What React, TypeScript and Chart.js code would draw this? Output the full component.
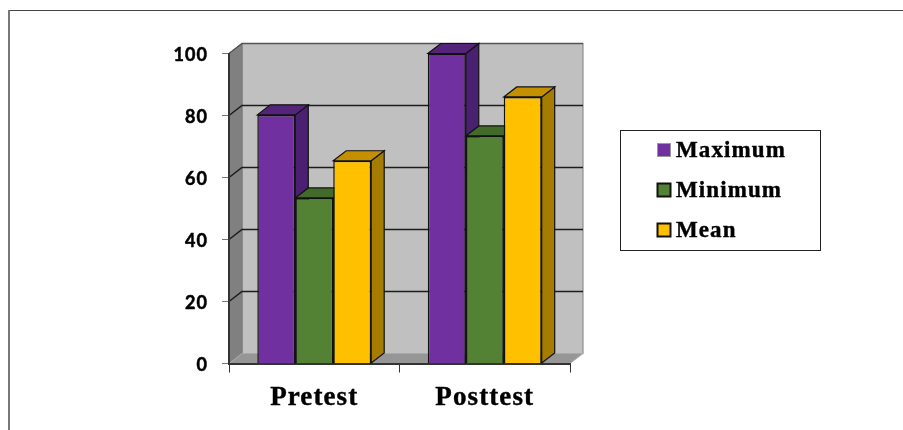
import React, { useEffect, useRef } from "react";
import { Chart, registerables } from "chart.js";

Chart.register(...registerables);

const categories = ["Pretest", "Posttest"];
const maximum = [80.2, 100];
const minimum = [53.4, 73.4];
const mean = [65.4, 86];
const yTicks = [0, 20, 40, 60, 80, 100];

const W = 903, H = 430;
const DX = 13, DY = 10;
const faces = [
  { front: "#7030A0", side: "#4A2070", top: "#54247A" },
  { front: "#548235", side: "#3C5E26", top: "#426A2B" },
  { front: "#FFC000", side: "#A67C00", top: "#C49000" },
];

function poly(ctx: CanvasRenderingContext2D, pts: number[][], fill: string | null, stroke: string | null, lw = 1) {
  ctx.beginPath();
  pts.forEach((p, i) => (i ? ctx.lineTo(p[0], p[1]) : ctx.moveTo(p[0], p[1])));
  ctx.closePath();
  if (fill) { ctx.fillStyle = fill; ctx.fill(); }
  if (stroke) { ctx.strokeStyle = stroke; ctx.lineWidth = lw; ctx.stroke(); }
}

const scene3d = {
  id: "scene3d",
  beforeDraw(chart: any) {
    const { ctx, chartArea: a, scales } = chart;
    ctx.save();
    // outer frame: top and left rules only
    ctx.strokeStyle = "#444";
    ctx.lineWidth = 1.2;
    ctx.beginPath();
    ctx.moveTo(8, 10.5);
    ctx.lineTo(W, 10.5);
    ctx.stroke();
    ctx.strokeStyle = "#777";
    ctx.lineWidth = 2;
    ctx.beginPath();
    ctx.moveTo(9, 10);
    ctx.lineTo(9, H);
    ctx.stroke();
    // walls
    poly(ctx, [[a.left + DX, a.top - DY], [a.right + DX, a.top - DY], [a.right + DX, a.bottom - DY], [a.left + DX, a.bottom - DY]], "#C0C0C0", "#8f8f8f", 1.2);
    poly(ctx, [[a.left, a.top], [a.left + DX, a.top - DY], [a.left + DX, a.bottom - DY], [a.left, a.bottom]], "#808080", "#777");
    poly(ctx, [[a.left, a.bottom], [a.left + DX, a.bottom - DY], [a.right + DX, a.bottom - DY], [a.right, a.bottom]], "#969696", "#aaa");
    // grid on walls
    yTicks.forEach((v) => {
      if (v === 0) return;
      const y = scales.y.getPixelForValue(v);
      ctx.strokeStyle = v === 100 ? "#555" : "#1c1c1c";
      ctx.lineWidth = 1.5;
      ctx.beginPath();
      ctx.moveTo(a.left, y);
      ctx.lineTo(a.left + DX, y - DY);
      ctx.lineTo(a.right + DX, y - DY);
      ctx.stroke();
    });
    ctx.restore();
    // applies to the axis labels the library draws after this hook
    (ctx as any).letterSpacing = "1.1px";
  },
  beforeDatasetsDraw(chart: any) {
    const { ctx } = chart;
    ctx.save();
    chart.data.datasets.forEach((_: any, di: number) => {
      const f = faces[di];
      chart.getDatasetMeta(di).data.forEach((bar: any) => {
        const { x, y, base, width } = bar.getProps(["x", "y", "base", "width"], true);
        const l = x - width / 2, r = x + width / 2;
        poly(ctx, [[r, y], [r + DX, y - DY], [r + DX, base - DY], [r, base]], f.side, "#111", 1.2);
        poly(ctx, [[l, y], [l + DX, y - DY], [r + DX, y - DY], [r, y]], f.top, "#111", 1.2);
      });
    });
    ctx.restore();
  },
  afterDraw(chart: any) {
    const { ctx } = chart;
    ctx.save();
    // legend box
    ctx.fillStyle = "#fff";
    ctx.fillRect(620.5, 130.5, 200, 120);
    ctx.strokeStyle = "#222";
    ctx.lineWidth = 1;
    ctx.strokeRect(620.5, 130.5, 200, 120);
    ctx.font = "bold 23px 'Liberation Serif'";
    (ctx as any).letterSpacing = "1.1px";
    ctx.textBaseline = "middle";
    ctx.textAlign = "left";
    chart.data.datasets.forEach((d: any, i: number) => {
      const cy = 150 + i * 40;
      ctx.fillStyle = d.backgroundColor;
      ctx.fillRect(657.5, cy - 6.5, 13, 13);
      ctx.strokeStyle = i === 0 ? "#999" : "#111";
      ctx.lineWidth = i === 0 ? 1 : 2;
      ctx.strokeRect(657.5, cy - 6.5, 13, 13);
      ctx.fillStyle = "#000";
      ctx.strokeStyle = "#000";
      ctx.lineWidth = 0.4;
      ctx.fillText(d.label, 676, cy + 1);
      ctx.strokeText(d.label, 676, cy + 1);
    });
    ctx.restore();
  },
};

export default function App() {
  const ref = useRef<HTMLCanvasElement>(null);
  useEffect(() => {
    document.body.style.margin = "0";
    document.body.style.background = "#fff";
    const seriesNames = ["Maximum", "Minimum", "Mean"];
    const seriesValues = [maximum, minimum, mean];
    const chart = new Chart(ref.current!, {
      type: "bar",
      data: {
        labels: categories,
        datasets: seriesValues.map((data, i) => ({
          label: seriesNames[i],
          data,
          backgroundColor: faces[i].front,
          borderColor: "#111",
          borderWidth: 1.5,
        })),
      },
      options: {
        animation: false,
        responsive: false,
        devicePixelRatio: 1,
        layout: { padding: { left: 0, right: W - 570, top: 53.5, bottom: 0 } },
        datasets: { bar: { categoryPercentage: 0.668, barPercentage: 1 } },
        plugins: { legend: { display: false }, tooltip: { enabled: false } },
        scales: {
          x: {
            afterFit(s: any) { s.height = H - 363.5; },
            border: { color: "#333", width: 2 },
            grid: { drawOnChartArea: false, tickLength: 9, color: "#333", lineWidth: 1 },
            ticks: { color: "#000", padding: 9, textStrokeColor: "#000", textStrokeWidth: 0.4, font: { family: "'Liberation Serif'", size: 27, weight: "bold" }, maxRotation: 0 },
          },
          y: {
            min: 0,
            max: 100,
            afterFit(s: any) { s.width = 229; },
            afterBuildTicks(s: any) { s.ticks = yTicks.map((value) => ({ value })); },
            border: { color: "#333", width: 2 },
            grid: { drawOnChartArea: false, tickLength: 7, color: "#777", lineWidth: 1 },
            ticks: { color: "#000", padding: 14, labelOffset: 2, textStrokeColor: "#000", textStrokeWidth: 0.5, font: { family: "Lato", size: 18, weight: "bold" } },
          },
        },
      },
      plugins: [scene3d],
    });
    return () => chart.destroy();
  }, []);
  return <canvas ref={ref} width={W} height={H} style={{ display: "block", width: W, height: H }} />;
}
